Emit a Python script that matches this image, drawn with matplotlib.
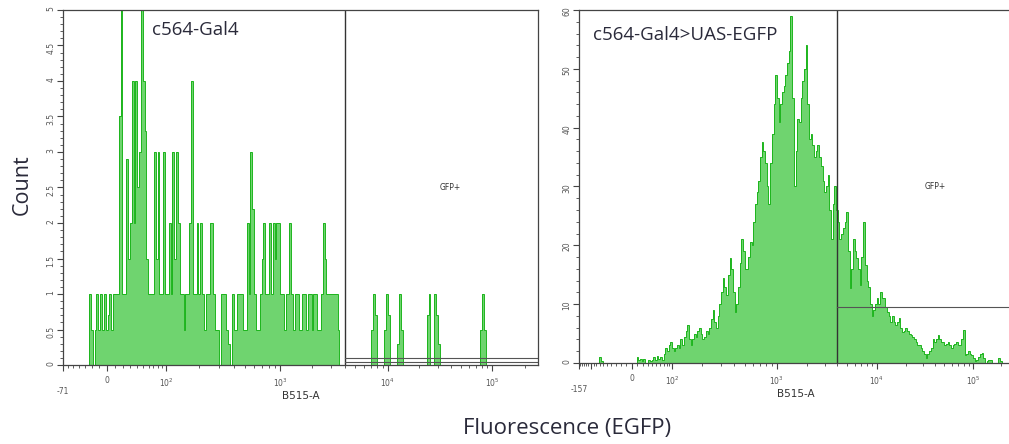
import numpy as np
import matplotlib.pyplot as plt
from matplotlib.ticker import FixedLocator

# counts per display bin (256 bins spread evenly over each display axis)
left_counts = [
    0, 0, 0, 0, 0, 0, 0, 0, 0, 0, 0, 0, 0, 0, 1, 0.5,
    0, 0.5, 1, 0.5, 1, 0.5, 1, 0.5, 0.7, 1, 0.5, 1, 1, 1, 3.5, 5,
    1, 1, 2.9, 1.5, 2, 4, 2, 4, 2.5, 3, 5, 4, 3.3, 1.5, 1, 1,
    1, 3, 1.5, 3, 1, 1, 3, 1, 1, 2, 1, 3, 1.5, 3, 2, 1,
    1, 0.5, 1, 1, 2, 4, 1, 1, 2, 1, 2, 1, 0.5, 1, 1, 2,
    2, 1, 0.5, 0.5, 0, 1, 1, 1, 0.5, 0.3, 0, 1, 0.5, 0.5, 1, 1,
    1, 0.5, 0.5, 2, 1, 3, 2.2, 1, 0.5, 0.5, 1, 1.5, 2, 1, 1, 2,
    1, 2, 1.5, 2, 2, 1, 1, 0.5, 1, 1, 2, 1, 0.5, 1, 1, 0.5,
    0.5, 1, 1, 0.5, 1, 1, 0.5, 1, 1, 0.5, 0.5, 1, 2, 1.5, 1, 1,
    1, 1, 1, 1, 0.5, 0, 0, 0, 0, 0, 0, 0, 0, 0, 0, 0,
    0, 0, 0, 0, 0, 0, 0.5, 1, 0.7, 0, 0, 0, 0, 0.5, 1, 0.7,
    0, 0, 0, 0, 0.3, 1, 0.5, 0, 0, 0, 0, 0, 0, 0, 0, 0,
    0, 0, 0, 0, 0.7, 1, 0, 0, 1, 0.7, 0.3, 0, 0, 0, 0, 0,
    0, 0, 0, 0, 0, 0, 0, 0, 0, 0, 0, 0, 0, 0, 0, 0,
    0, 0.5, 1, 0.5, 0, 0, 0, 0, 0, 0, 0, 0, 0, 0, 0, 0,
    0, 0, 0, 0, 0, 0, 0, 0, 0, 0, 0, 0, 0, 0, 0, 0,
]

right_counts = [
    0, 0, 0, 0, 0, 0, 0, 0, 0, 0, 0, 0, 1, 0.3, 0, 0,
    0, 0, 0, 0, 0, 0, 0, 0, 0, 0, 0, 0, 0, 0, 0, 0,
    0, 0, 1, 0.5, 0.7, 0.3, 0.7, 0, 0, 0.5, 0.3, 0.5, 1, 0.5, 1.2, 0.7,
    1, 0.5, 1.5, 2.5, 2, 3, 3.5, 2.5, 2, 2.5, 3, 2.5, 4, 3, 4.5, 5.5,
    6.4, 4, 3, 4, 5, 4.5, 5.5, 6, 5, 4, 4.5, 5.5, 5, 6, 7.5, 9,
    7, 6, 8, 10, 12, 14.4, 13, 11.5, 15, 17.8, 16, 12, 8.6, 10, 13, 17,
    21, 19, 16, 16, 18, 20.5, 20, 24, 27, 29, 31, 35, 37.5, 36, 34, 30,
    27, 34, 39, 44, 49, 45, 41, 44, 46, 47, 49, 51, 53, 59, 45, 30,
    36, 41.5, 41, 45, 48, 50, 54, 44, 38, 39, 37, 35, 36, 37, 35, 33.5,
    31, 29, 30, 32, 26, 21, 27, 30, 26, 24, 21, 22, 23, 24, 25.6, 19,
    12.7, 16, 21, 19, 17.8, 16, 13.2, 18, 24, 16.6, 14, 13, 10, 8, 9, 10,
    11, 10, 12, 11, 11, 9.5, 8.6, 8, 7, 8, 7, 6.4, 7, 7.6, 6, 5.3,
    5.5, 6, 5.5, 5, 4.7, 4.5, 4, 3.6, 3, 3, 2.5, 2, 1.5, 0.8, 1.5, 2,
    2.5, 4, 3.5, 4, 4.7, 4, 3.6, 3.5, 3, 3.3, 3.6, 3, 2.5, 3, 3.3, 3.6,
    3, 3, 4, 5.6, 1.4, 1.5, 2, 1.5, 1.4, 0.8, 0.3, 0.5, 1, 1.5, 1.7, 0.8,
    0, 0.3, 0.5, 0.5, 0, 0, 0, 0, 0.8, 0.3, 0, 0, 0, 0, 0, 0,
]

left_title = "c564-Gal4"
right_title = "c564-Gal4>UAS-EGFP"
left_xmin, right_xmin, xmax = -71, -157, 262143
gate_x = 4000
left_gate_y = [0.04, 0.1]
right_gate_y = [9.5]

FILL = "#6fd46f"
EDGE = "#1db51d"
AX = "#444444"


def biex(anchors, fracs, w=50.0):
    # piecewise asinh display scale, pinned to where the decades sit
    a = np.arcsinh(np.asarray(anchors, float) / w)
    f = np.asarray(fracs, float)

    def fwd(v):
        return np.interp(np.arcsinh(np.asarray(v, float) / w), a, f)

    def inv(p):
        return w * np.sinh(np.interp(p, f, a))
    return fwd, inv


def panel(ax, counts, xmin, fracs, ymax, ystep, yminor, title, title_xy, gate_y, extra_major):
    fwd, inv = biex([xmin, 0, 1e2, 1e3, 1e4, 1e5, xmax], fracs)
    ax.set_xscale("function", functions=(fwd, inv))
    ax.set_xlim(xmin, xmax)
    ax.set_ylim(0, ymax)

    edges = inv(np.linspace(0, 1, len(counts) + 1))
    ax.stairs(counts, edges, fill=True, color=FILL, lw=0)
    ax.stairs(counts, edges, color=EDGE, lw=0.7)

    # gate
    ax.axvline(gate_x, color="#333333", lw=1)
    for gy in gate_y:
        ax.plot([gate_x, xmax], [gy, gy], color="#555555", lw=0.8)
    ax.text(fwd(40000), 0.5, "GFP+", transform=ax.transAxes, fontsize=5.5,
            color="#333333", ha="center", va="center")

    majors = [xmin] + extra_major + [0, 1e2, 1e3, 1e4, 1e5]
    labels = ["\n%d" % xmin] + [""] * len(extra_major) + ["0", "$10^2$", "$10^3$", "$10^4$", "$10^5$"]
    ax.xaxis.set_major_locator(FixedLocator(majors))
    ax.set_xticklabels(labels)
    lin = [v for v in range(-150, 100, 10) if v != 0 and v > xmin and v not in extra_major]
    logm = [m * 10 ** k for k in (2, 3, 4) for m in range(2, 10)] + [2e5]
    ax.xaxis.set_minor_locator(FixedLocator(lin + logm))

    yt = np.arange(0, ymax + ystep / 2, ystep)
    ax.set_yticks(yt)
    ax.set_yticklabels(["%g" % v for v in yt])
    ax.yaxis.set_minor_locator(FixedLocator(np.arange(0, ymax + yminor / 2, yminor)))

    ax.tick_params(which="both", direction="out", color=AX, labelcolor="#555555",
                   labelsize=5.5, pad=1.5)
    ax.tick_params(axis="x", which="major", pad=4)
    ax.tick_params(which="major", length=4)
    ax.tick_params(which="minor", length=2.5)
    ax.tick_params(axis="y", labelrotation=90)
    for s in ax.spines.values():
        s.set_color(AX)
        s.set_linewidth(0.9)

    ax.set_xlabel("B515-A", fontsize=7.5, color="#333333", labelpad=-3)
    ax.text(title_xy[0], title_xy[1], title, transform=ax.transAxes, fontsize=13.5,
            family="Open Sans", color="#2a2a3a", ha="left", va="center")


fig = plt.figure(figsize=(10.09, 4.44), dpi=100)
ax1 = fig.add_axes([63 / 1009, 79 / 444, 475 / 1009, 355 / 444])
ax2 = fig.add_axes([579 / 1009, 81 / 444, 433 / 1009, 353 / 444])

panel(ax1, left_counts, left_xmin, [0, 0.0926, 0.2168, 0.4568, 0.684, 0.903, 1.0],
      5, 0.5, 0.1, left_title, (0.187, 0.944), left_gate_y, [])
panel(ax2, right_counts, right_xmin, [0, 0.122, 0.215, 0.457, 0.688, 0.910, 1.0],
      60, 10, 2, right_title, (0.032, 0.929), right_gate_y, [-100])

fig.text(22 / 1009, 1 - 185 / 444, "Count", rotation=90, fontsize=15.5, family="Open Sans",
         color="#2a2a3a", ha="center", va="center")
fig.text(567 / 1009, 1 - 428 / 444, "Fluorescence (EGFP)", fontsize=16, family="Open Sans",
         color="#2a2a3a", ha="center", va="center")

fig.savefig("out.png", dpi=100)
